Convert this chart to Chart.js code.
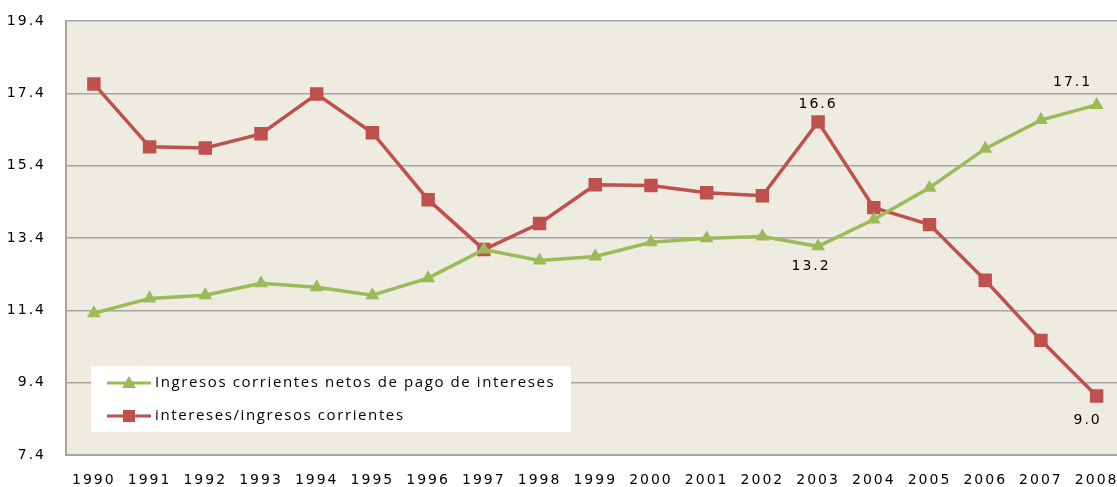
<!DOCTYPE html>
<html>
<head>
<meta charset="utf-8">
<script src="https://cdn.jsdelivr.net/npm/chart.js@4"></script>
<style>
  html, body { margin: 0; padding: 0; background: #fff; overflow: hidden; }
  #wrap { width: 1134px; height: 487px; }
</style>
</head>
<body>
<div id="wrap"><canvas id="chart" width="1134" height="487"></canvas></div>
<script>
const YEARS = ['1990', '1991', '1992', '1993', '1994', '1995', '1996', '1997', '1998', '1999',
  '2000', '2001', '2002', '2003', '2004', '2005', '2006', '2007', '2008'];
const NETOS = [11.32, 11.73, 11.82, 12.15, 12.04, 11.82, 12.29, 13.08, 12.78, 12.89,
  13.28, 13.39, 13.44, 13.17, 13.91, 14.79, 15.87, 16.66, 17.08];
const INTERESES = [17.66, 15.92, 15.89, 16.28, 17.38, 16.31, 14.46, 13.08, 13.80, 14.87,
  14.85, 14.65, 14.57, 16.61, 14.24, 13.77, 12.23, 10.57, 9.03];
const Y_TICKS = [7.4, 9.4, 11.4, 13.4, 15.4, 17.4, 19.4];
const LABEL_NETOS = 'Ingresos corrientes netos de pago de intereses';
const LABEL_INTERESES = 'intereses/ingresos corrientes';

const GREEN = '#9BBB59';
const RED = '#C0504D';
const FONT = '"DejaVu Sans", sans-serif';

// fondo del área de trazado + espaciado de letras
const plotBg = {
  id: 'plotBg',
  beforeDraw(chart) {
    const { ctx, chartArea: a } = chart;
    ctx.letterSpacing = '2px';
    ctx.save();
    ctx.fillStyle = '#EEEBE0';
    ctx.fillRect(a.left, a.top, a.right - a.left, a.bottom - a.top);
    ctx.restore();
  }
};

// etiquetas de valores
const valueLabels = {
  id: 'valueLabels',
  afterDatasetsDraw(chart) {
    const { ctx } = chart;
    const marks = [
      { ds: 1, i: 13, dy: -18, dx: 0 },
      { ds: 0, i: 13, dy: 20, dx: -7 },
      { ds: 0, i: 18, dy: -23, dx: -24 },
      { ds: 1, i: 18, dy: 24, dx: -9 }
    ];
    ctx.save();
    ctx.font = '14px ' + FONT;
    ctx.fillStyle = '#000';
    ctx.textAlign = 'center';
    ctx.textBaseline = 'middle';
    marks.forEach(m => {
      const p = chart.getDatasetMeta(m.ds).data[m.i];
      const v = chart.data.datasets[m.ds].data[m.i];
      ctx.fillText(v.toFixed(1), p.x + m.dx, p.y + m.dy);
    });
    ctx.restore();
  }
};

// leyenda dentro del gráfico
const boxLegend = {
  id: 'boxLegend',
  afterDraw(chart) {
    const { ctx } = chart;
    const x = 91, y = 366, w = 480, h = 66;
    ctx.save();
    ctx.fillStyle = '#fff';
    ctx.fillRect(x, y, w, h);
    const rows = [
      { label: LABEL_NETOS, color: GREEN, shape: 'triangle', cy: 383 },
      { label: LABEL_INTERESES, color: RED, shape: 'rect', cy: 416 }
    ];
    rows.forEach(r => {
      ctx.strokeStyle = r.color;
      ctx.lineWidth = 3;
      ctx.beginPath();
      ctx.moveTo(107, r.cy);
      ctx.lineTo(151, r.cy);
      ctx.stroke();
      ctx.fillStyle = r.color;
      if (r.shape === 'triangle') {
        ctx.beginPath();
        ctx.moveTo(129, r.cy - 7);
        ctx.lineTo(136, r.cy + 5);
        ctx.lineTo(122, r.cy + 5);
        ctx.closePath();
        ctx.fill();
      } else {
        ctx.fillRect(123, r.cy - 6, 12, 12);
      }
      ctx.fillStyle = '#000';
      ctx.font = '15px "Open Sans", sans-serif';
      ctx.letterSpacing = '1.6px';
      ctx.textAlign = 'left';
      ctx.textBaseline = 'middle';
      ctx.fillText(r.label, 155, r.cy);
    });
    ctx.restore();
  }
};

new Chart(document.getElementById('chart'), {
  type: 'line',
  data: {
    labels: YEARS,
    datasets: [
      {
        label: LABEL_NETOS,
        data: NETOS,
        borderColor: GREEN,
        backgroundColor: GREEN,
        borderWidth: 3.5,
        pointStyle: 'triangle',
        pointRadius: 8,
        pointBorderWidth: 0,
        tension: 0
      },
      {
        label: LABEL_INTERESES,
        data: INTERESES,
        borderColor: RED,
        backgroundColor: RED,
        borderWidth: 3.5,
        pointStyle: 'rect',
        pointRadius: 9.5,
        pointBorderWidth: 0,
        tension: 0
      }
    ]
  },
  options: {
    responsive: false,
    animation: false,
    layout: { padding: { top: 21, right: 0, left: 0, bottom: 0 } },
    plugins: {
      legend: { display: false },
      tooltip: { enabled: false }
    },
    scales: {
      x: {
        offset: true,
        grid: { display: false, drawTicks: false },
        border: { display: true, color: '#A6A6A6', width: 2 },
        ticks: { color: '#000', font: { family: FONT, size: 14 }, padding: 17, maxRotation: 0, autoSkip: false },
        afterFit(s) { s.height = 32; }
      },
      y: {
        min: 7.4,
        max: 19.4,
        grid: { color: '#A6A6A6', lineWidth: 1.5, drawTicks: false },
        border: { display: true, color: '#A6A6A6', width: 2 },
        ticks: {
          color: '#000',
          font: { family: FONT, size: 14 },
          padding: 20,
          callback: v => Number(v).toFixed(1)
        },
        afterBuildTicks(s) { s.ticks = Y_TICKS.map(v => ({ value: v })); },
        afterFit(s) {
          s.width = 66;
          s.paddingTop = 0;
          s.paddingBottom = 0;
        }
      }
    }
  },
  plugins: [plotBg, valueLabels, boxLegend]
});
</script>
</body>
</html>
